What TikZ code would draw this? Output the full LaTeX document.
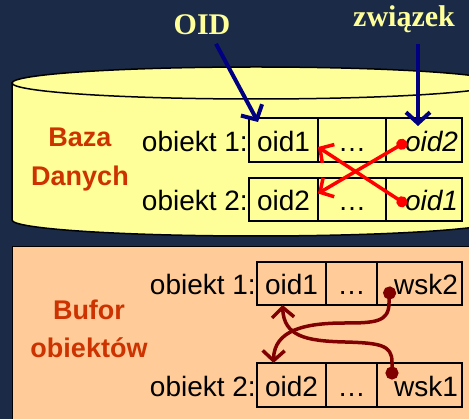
\documentclass[tikz,border=0pt]{standalone}
\usepackage{fontspec}
\setmainfont{Liberation Sans}
\newfontfamily\titleserif{Liberation Serif}
\usetikzlibrary{arrows.meta, positioning}
\definecolor{navybg}{HTML}{1B2B47}
\definecolor{dbyellow}{HTML}{FFFF99}
\definecolor{bufpeach}{HTML}{FFCC99}
\definecolor{labelred}{HTML}{CC3300}
\definecolor{titleyellow}{HTML}{FFFF99}
\definecolor{arrownavy}{HTML}{000080}
\definecolor{ptrred}{HTML}{800000}
\def \cellfont {\fontsize{28}{32}\selectfont}

\begin{document}
\begin{tikzpicture}[
	  x=1pt, y=-1pt,
	  cell_style/.style={
	  	draw,
	  	line width=1.5pt,
	  	minimum height=44pt,
	  	inner sep=0pt,
	  	outer sep=0pt,
	  	text height=23pt,
	  	text depth=0pt,
	  	text=black,
	  	font=\cellfont
	  },
	  ref_cell/.style={
	  	cell_style,
	  	text width=#1,
	  	align=right
	  },
	  name_style/.style={
	  	anchor=east,
	  	inner sep=1pt,
	  	text height=23pt,
	  	text depth=0pt,
	  	font=\cellfont
	  },
	  area_style/.style={
	  	align=center,
	  	text=labelred,
	  	font=\fontsize{27}{39}\selectfont\bfseries
	  },
	  title_style/.style={
	  	anchor=base,
	  	text=titleyellow,
	  	font=\fontsize{30}{34}\selectfont\titleserif\bfseries
	  },
	  oid_arrow/.style={
	  	arrownavy,
	  	line width=4pt,
	  	-{Straight Barb[length=11pt,width=24pt]}
	  },
	  link_arrow/.style={
	  	red,
	  	line width=3.5pt,
	  	{Circle[length=11pt]}-{Straight Barb[length=10pt,width=22pt]}
	  },
	  ptr_arrow/.style={
	  	ptrred,
	  	line width=3.5pt,
	  	{Circle[length=13pt]}-{Straight Barb[length=10pt,width=22pt]}
	  }]
	% Background
	\fill[navybg] (0,0) rectangle (469,419);
	\useasboundingbox (0,0) rectangle (469,419);
	% Database cylinder
	\draw[line width=1.5pt, fill=dbyellow] (12,83) -- (12,220)
		arc[start angle=180, end angle=360, x radius=244pt, y radius=16pt] -- (500,83) -- cycle;
	\draw[line width=1.5pt, fill=dbyellow] (256,83) ellipse[x radius=244pt, y radius=16pt];
	% Object buffer
	\draw[line width=0.8pt, fill=bufpeach] (12,246) rectangle (480,430);

	% Database objects
	\node[cell_style, fill=dbyellow, minimum width=69pt, anchor=west] (t11) at (249,140) {oid1};
	\node[cell_style, fill=dbyellow, minimum width=68pt, right=0pt of t11] (t12) {…};
	\node[ref_cell=68pt, fill=dbyellow, minimum width=76pt, right=0pt of t12] (t13) {\itshape oid2};
	\node[cell_style, fill=dbyellow, minimum width=69pt, minimum height=43pt, anchor=west] (t21) at (249,199.5) {oid2};
	\node[cell_style, fill=dbyellow, minimum width=68pt, minimum height=43pt, right=0pt of t21] (t22) {…};
	\node[ref_cell=68pt, fill=dbyellow, minimum width=76pt, minimum height=43pt, right=0pt of t22] (t23) {\itshape oid1};
	\node[name_style] (tn1) at (t11.west) {obiekt 1:};
	\node[name_style] (tn2) at (t21.west) {obiekt 2:};
	\node[area_style] (db) at (80,160) {Baza\\Danych};

	% Buffer objects
	\node[cell_style, fill=bufpeach, minimum width=69pt, minimum height=43pt, anchor=west] (b11) at (257,283.5) {oid1};
	\node[cell_style, fill=bufpeach, minimum width=51pt, minimum height=43pt, right=0pt of b11] (b12) {…};
	\node[ref_cell=77pt, fill=bufpeach, minimum width=85pt, minimum height=43pt, right=0pt of b12] (b13) {wsk2};
	\node[cell_style, fill=bufpeach, minimum width=69pt, anchor=west] (b21) at (257,385) {oid2};
	\node[cell_style, fill=bufpeach, minimum width=51pt, right=0pt of b21] (b22) {…};
	\node[ref_cell=77pt, fill=bufpeach, minimum width=85pt, right=0pt of b22] (b23) {wsk1};
	\node[name_style] (bn1) at (b11.west) {obiekt 1:};
	\node[name_style] (bn2) at (b21.west) {obiekt 2:};
	\node[area_style, font=\fontsize{27}{38}\selectfont\bfseries] (buf) at (89,329) {Bufor\\obiektów};

	% Titles
	\node[title_style] (oid_lbl) at (202,35) {OID};
	\node[title_style] (rel_lbl) at (404,27) {związek};
	\draw[oid_arrow] ([xshift=14pt,yshift=-5pt]oid_lbl.south) -- ([xshift=9pt,yshift=-4pt]t11.north west);
	\draw[oid_arrow] ([xshift=14pt,yshift=-7pt]rel_lbl.south) -- ([xshift=-6pt,yshift=-8pt]t13.north);

	% Links by oid
	\coordinate (r1) at (406.5,141.5);
	\coordinate (r2) at (406.5,204.8);
	\draw[link_arrow] (r1) -- ([yshift=6pt]t21.east);
	\draw[link_arrow] (r2) -- ([yshift=-7pt]t11.east);

	% Pointers
	\coordinate (p1) at (390,286.5);
	\coordinate (p2) at (392,379.5);
	\draw[ptr_arrow] (p1) -- (389,303) .. controls (389,322) and (375,323) .. (345,323)
		.. controls (305,323) and (274,330) .. ([xshift=-18pt]b21.north);
	\draw[ptr_arrow] (p2) -- (392,362) .. controls (392,345) and (380,343) .. (345,342)
		.. controls (305,341) and (284,336) .. ([xshift=-9pt]b11.south);
\end{tikzpicture}
\end{document}
